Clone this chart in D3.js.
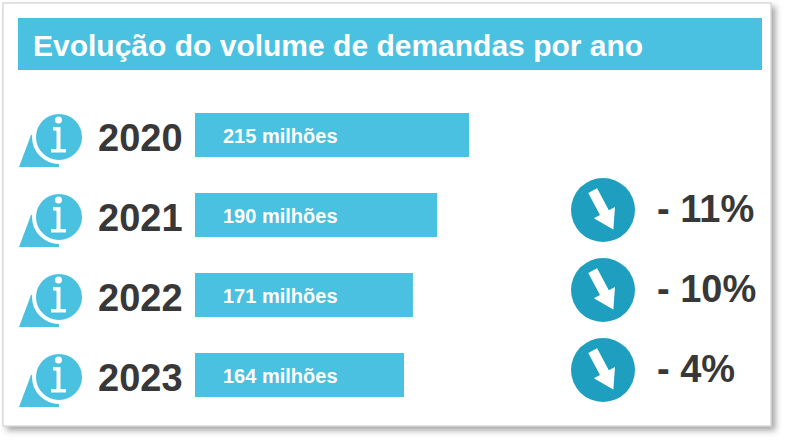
<!doctype html>
<html lang="pt">
  <head>
    <meta charset="utf-8">
    <title>Evolução do volume de demandas por ano</title>
    <script src="https://d3js.org/d3.v7.min.js"></script>
    <style>
      body { margin: 0; background: #fff; }
      text { font-family: "Liberation Sans", Arial, sans-serif; font-weight: bold; }
    </style>
  </head>
  <body>
    <div id="chart"></div>
    <script>
      // data
      const years = ["2020", "2021", "2022", "2023"];
      const volumes = [215, 190, 171, 164];          // milhões
      const changes = [null, -11, -10, -4];          // % vs previous year

      const W = 785, H = 441;
      const lightBlue = "#4ac1e0", darkBlue = "#1f9fc0", ink = "#383838";

      const svg = d3.select("#chart").append("svg")
        .attr("width", W).attr("height", H);

      // card shadow
      const defs = svg.append("defs");
      const f = defs.append("filter").attr("id", "shadow")
        .attr("x", "-5%").attr("y", "-5%").attr("width", "115%").attr("height", "120%");
      f.append("feDropShadow").attr("dx", 4).attr("dy", 4)
        .attr("stdDeviation", 3).attr("flood-color", "#000").attr("flood-opacity", 0.35);

      svg.append("rect")
        .attr("x", 3).attr("y", 3).attr("width", 768).attr("height", 423)
        .attr("fill", "#fff").attr("stroke", "#c8c8c8").attr("stroke-width", 1)
        .attr("filter", "url(#shadow)");

      // title bar
      svg.append("rect")
        .attr("x", 18).attr("y", 18).attr("width", 744).attr("height", 52)
        .attr("fill", lightBlue);
      svg.append("text")
        .attr("x", 33).attr("y", 56)
        .attr("fill", "#fff").attr("font-size", "30px")
        .text("Evolução do volume de demandas por ano");

      const rows = years.map((y, i) => ({year: y, value: volumes[i], change: changes[i]}));

      const x = d3.scaleLinear().domain([0, 215]).range([195, 469]);
      const y = d3.scalePoint().domain(years).range([135, 375]);
      const barH = 44;

      // bars
      svg.selectAll(".bar").data(rows).enter().append("rect")
        .attr("class", "bar")
        .attr("x", x(0))
        .attr("y", d => y(d.year) - barH / 2)
        .attr("width", d => x(d.value) - x(0))
        .attr("height", barH)
        .attr("fill", lightBlue);

      svg.selectAll(".barlabel").data(rows).enter().append("text")
        .attr("class", "barlabel")
        .attr("x", x(0) + 28)
        .attr("y", d => y(d.year) + 8)
        .attr("fill", "#fff").attr("font-size", "20px")
        .text(d => d.value + " milhões");

      // year labels
      svg.selectAll(".year").data(rows).enter().append("text")
        .attr("class", "year")
        .attr("x", 98)
        .attr("y", d => y(d.year) + 16)
        .attr("fill", ink).attr("font-size", "38px")
        .text(d => d.year);

      // info icons
      const icon = svg.selectAll(".info").data(rows).enter().append("g")
        .attr("class", "info")
        .attr("transform", d => `translate(59,${y(d.year) + 2})`);
      icon.append("path")
        .attr("d", "M-40,30 L-28,-2 L0,0 L0,30 Z")
        .attr("fill", lightBlue);
      icon.append("circle")
        .attr("r", 25).attr("fill", lightBlue)
        .attr("stroke", "#fff").attr("stroke-width", 4);
      icon.append("circle")
        .attr("cx", -0.5).attr("cy", -17).attr("r", 3.5).attr("fill", "#fff");
      icon.append("path")
        .attr("d", "M-6,-10 L1.5,-10 L1.5,12 L7,12 L7,15.5 L-8,15.5 L-8,12 L-2.5,12 L-2.5,-6.5 L-6,-6.5 Z")
        .attr("fill", "#fff");

      // change indicators
      const ch = svg.selectAll(".change").data(rows.filter(d => d.change !== null)).enter()
        .append("g").attr("class", "change");
      const arrow = ch.append("g")
        .attr("transform", d => `translate(603,${y(d.year) - 5})`);
      arrow.append("circle").attr("r", 32).attr("fill", darkBlue);
      arrow.append("path")
        .attr("d", "M-5,-22 L5,-22 L5,3 L12,3 L0,22 L-12,3 L-5,3 Z")
        .attr("fill", "#fff")
        .attr("transform", "rotate(-28)");
      ch.append("text")
        .attr("x", 657)
        .attr("y", d => y(d.year) + 7)
        .attr("fill", ink).attr("font-size", "38px")
        .text(d => "- " + Math.abs(d.change) + "%");
    </script>
  </body>
</html>
